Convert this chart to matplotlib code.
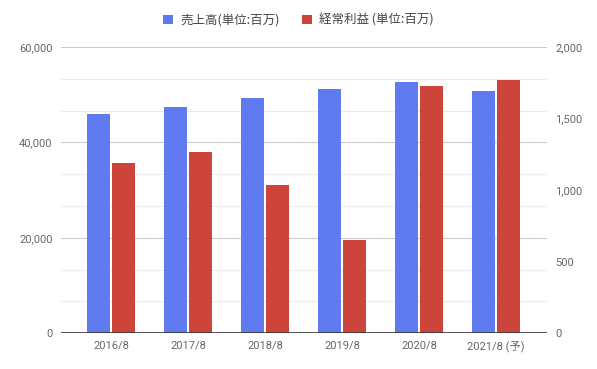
import matplotlib.pyplot as plt
import numpy as np

years = ['2016/8', '2017/8', '2018/8', '2019/8', '2020/8', '2021/8 (予)']
sales = [45850, 47300, 49200, 51100, 52550, 50750]
profit = [1186, 1265, 1035, 649, 1726, 1772]

blue = '#5F7BEF'
red = '#CC443A'

plt.rcParams['font.family'] = ['Roboto', 'Noto Sans CJK JP', 'DejaVu Sans']

fig = plt.figure(figsize=(5.97, 3.69), dpi=100)
ax = fig.add_axes([0.102, 0.0967, 0.814, 0.7763])
ax2 = ax.twinx()

x = np.arange(len(years))
w = 0.295
b1 = ax.bar(x - 0.162, sales, w, color=blue, zorder=3)
b2 = ax2.bar(x + 0.162, profit, w, color=red, zorder=3)

ax.set_xlim(-0.65, 5.66)
ax.set_ylim(0, 60000)
ax2.set_ylim(0, 2000)

# gridlines on the back axes: 9 intervals, darker at the labelled left ticks
for i, v in enumerate(np.linspace(0, 2000, 10)[1:], start=1):
    ax2.axhline(v, color='#cccccc' if i % 3 == 0 else '#ebebeb', lw=0.8, zorder=1)
ax.axhline(0, color='#333333', lw=1.2, zorder=4)

ax.set_yticks([0, 20000, 40000, 60000])
ax.set_yticklabels(['0', '20,000', '40,000', '60,000'])
ax2.set_yticks([0, 500, 1000, 1500, 2000])
ax2.set_yticklabels(['0', '500', '1,000', '1,500', '2,000'])
ax.set_xticks(x)
ax.set_xticklabels(years)

for a in (ax, ax2):
    for s in a.spines.values():
        s.set_visible(False)
    a.tick_params(length=0, labelsize=8, colors='#666666')
ax.tick_params(axis='y', pad=6)
ax2.tick_params(axis='y', pad=6)
ax.tick_params(axis='x', pad=5)
ax.set_zorder(ax2.get_zorder() + 1)
ax.patch.set_visible(False)

fig.legend([b1, b2], ['売上高(単位:百万)', '経常利益 (単位:百万)'],
           loc='center', bbox_to_anchor=(0.5, 0.945), ncol=2, frameon=False,
           labelcolor='#444444', handlelength=0.8, handleheight=0.8,
           handletextpad=0.6, columnspacing=1.7,
           prop={'family': ['Noto Sans CJK JP', 'DejaVu Sans'], 'size': 9})

fig.savefig('out.png', dpi=100)
